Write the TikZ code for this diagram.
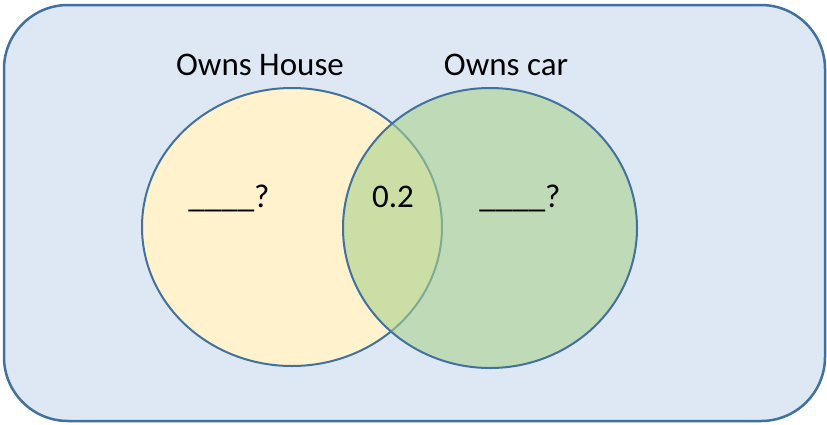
\documentclass[tikz,border=0pt]{standalone}
\usepackage{fontspec}
\usetikzlibrary{shapes.geometric}
\setmainfont{Carlito}
\definecolor{bgblue}{HTML}{DEE8F5}
\definecolor{edgeblue}{HTML}{41719C}
\definecolor{houseyel}{HTML}{FFF2CC}
\definecolor{cargreen}{HTML}{A9D18E}
\begin{document}
\begin{tikzpicture}[x=1pt,y=-1pt,
  lbl/.style={font=\fontsize{33}{38}\selectfont, anchor=base, inner sep=0pt},
  setedge/.style={draw=edgeblue, line width=2pt}]
\useasboundingbox (0,0) rectangle (827,424);
\node[draw=edgeblue, line width=2.5pt, fill=bgblue, rounded corners=64pt,
  minimum width=821pt, minimum height=416pt, inner sep=0pt] (frame) at (414.5,213) {};
\node[setedge, fill=houseyel, ellipse, minimum width=300pt, minimum height=278pt, inner sep=0pt] (house) at (292,227) {};
\node[draw=none, fill=cargreen, fill opacity=0.6, ellipse, minimum width=294pt, minimum height=280pt, inner sep=0pt] (carfill) at (490,228) {};
\node[setedge, ellipse, minimum width=294pt, minimum height=280pt, inner sep=0pt] (car) at (490,228) {};
\node[lbl] (thouse) at (260,75) {Owns House};
\node[lbl] (tcar) at (506,75) {Owns car};
\node[lbl] (qleft) at (229,207) {\_\_\_\_?};
\node[lbl] (both) at (393,207) {0.2};
\node[lbl] (qright) at (520,207) {\_\_\_\_?};
\end{tikzpicture}
\end{document}
